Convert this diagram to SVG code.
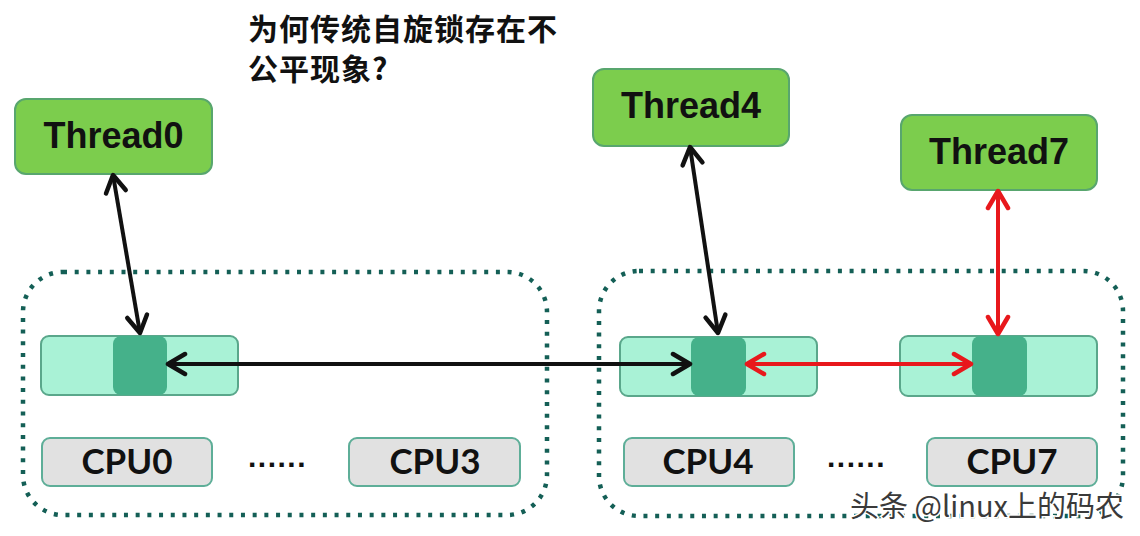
<svg xmlns="http://www.w3.org/2000/svg" width="1140" height="536" viewBox="0 0 1140 536">
  <style>
    .title { font-family: "Noto Sans CJK SC", "Noto Sans", sans-serif; font-weight: bold; font-size: 30px; letter-spacing: 1px; fill: #111; }
    .thread rect { fill: #7ccd4d; stroke: #58a66e; stroke-width: 2; }
    .thread text { font-family: "Liberation Sans", Arial, sans-serif; font-weight: bold; font-size: 36px; fill: #111; text-anchor: middle; }
    .cluster { fill: none; stroke: #145f56; stroke-width: 4.5; stroke-dasharray: 4 7.7; }
    .lock .bar { fill: #a9f2d6; stroke: #5aa78b; stroke-width: 2; }
    .lock .slot { fill: #45b18a; }
    .cpu rect { fill: #e1e1e1; stroke: #5eae98; stroke-width: 2; }
    .cpu text { font-family: Lato, "Liberation Sans", sans-serif; font-weight: bold; font-size: 35px; fill: #111; text-anchor: middle; }
    .dots { font-family: "Liberation Sans", Arial, sans-serif; font-weight: bold; font-size: 30px; letter-spacing: 1.5px; fill: #111; }
    .conn { fill: none; stroke-width: 4; }
    .black { stroke: #111; }
    .red { stroke: #e8181c; }
    .wm { font-family: "Noto Sans CJK SC", "Noto Sans", sans-serif; font-size: 29px; fill: #3a3a3a; stroke: #ffffff; stroke-width: 3; paint-order: stroke; text-anchor: end; }
  </style>
  <defs>
    <marker id="ah-black" markerUnits="userSpaceOnUse" markerWidth="26" markerHeight="26" viewBox="0 0 26 26" refX="21" refY="13" orient="auto-start-reverse">
      <path d="M4,3 L21,13 L4,23" fill="none" stroke="#111" stroke-width="4.5" stroke-linecap="round" stroke-linejoin="round"/>
    </marker>
    <marker id="ah-red" markerUnits="userSpaceOnUse" markerWidth="26" markerHeight="26" viewBox="0 0 26 26" refX="21" refY="13" orient="auto-start-reverse">
      <path d="M4,3 L21,13 L4,23" fill="none" stroke="#e8181c" stroke-width="4.5" stroke-linecap="round" stroke-linejoin="round"/>
    </marker>
  </defs>

  <rect x="0" y="0" width="1140" height="536" fill="#ffffff"/>

  <g id="title">
    <text class="title" x="248" y="40">为何传统自旋锁存在不</text>
    <text class="title" x="248" y="80">公平现象?</text>
  </g>

  <g id="cluster-left">
    <rect class="cluster" x="23" y="272" width="524" height="243" rx="40" ry="40"/>
  </g>
  <g id="cluster-right">
    <rect class="cluster" x="599" y="271" width="524" height="245" rx="40" ry="40"/>
  </g>

  <g id="thread0" class="thread">
    <rect x="15" y="99" width="197" height="75" rx="11" ry="11"/>
    <text x="113.5" y="148">Thread0</text>
  </g>
  <g id="thread4" class="thread">
    <rect x="593" y="69" width="196" height="77" rx="11" ry="11"/>
    <text x="691" y="118">Thread4</text>
  </g>
  <g id="thread7" class="thread">
    <rect x="901" y="115" width="196" height="75" rx="11" ry="11"/>
    <text x="999" y="164">Thread7</text>
  </g>

  <g id="lock0" class="lock">
    <rect class="bar" x="41" y="336" width="197" height="59" rx="8" ry="8"/>
    <rect class="slot" x="113" y="336" width="54" height="59" rx="8" ry="8"/>
  </g>
  <g id="lock4" class="lock">
    <rect class="bar" x="620" y="337" width="197" height="59" rx="8" ry="8"/>
    <rect class="slot" x="691" y="337" width="55" height="59" rx="8" ry="8"/>
  </g>
  <g id="lock7" class="lock">
    <rect class="bar" x="900" y="336" width="197" height="60" rx="8" ry="8"/>
    <rect class="slot" x="972" y="336" width="55" height="60" rx="8" ry="8"/>
  </g>

  <g id="cpu0" class="cpu">
    <rect x="42" y="438" width="170" height="48" rx="8" ry="8"/>
    <text x="127" y="474">CPU0</text>
  </g>
  <g id="cpu3" class="cpu">
    <rect x="349" y="438" width="171" height="48" rx="8" ry="8"/>
    <text x="435" y="474">CPU3</text>
  </g>
  <g id="cpu4" class="cpu">
    <rect x="624" y="438" width="170" height="48" rx="8" ry="8"/>
    <text x="708" y="474">CPU4</text>
  </g>
  <g id="cpu7" class="cpu">
    <rect x="927" y="438" width="170" height="48" rx="8" ry="8"/>
    <text x="1012" y="474">CPU7</text>
  </g>

  <g id="ellipsis-left">
    <text class="dots" x="248" y="467">......</text>
  </g>
  <g id="ellipsis-right">
    <text class="dots" x="827" y="467">......</text>
  </g>

  <g id="connectors">
    <line class="conn black" x1="113" y1="175" x2="140" y2="333" marker-start="url(#ah-black)" marker-end="url(#ah-black)"/>
    <line class="conn black" x1="168" y1="364" x2="690" y2="364" marker-start="url(#ah-black)" marker-end="url(#ah-black)"/>
    <line class="conn black" x1="690" y1="147" x2="718" y2="333" marker-start="url(#ah-black)" marker-end="url(#ah-black)"/>
    <line class="conn red" x1="998" y1="191" x2="998" y2="334" marker-start="url(#ah-red)" marker-end="url(#ah-red)"/>
    <line class="conn red" x1="747" y1="364" x2="971" y2="364" marker-start="url(#ah-red)" marker-end="url(#ah-red)"/>
  </g>

  <g id="watermark">
    <text class="wm" x="1124" y="517">头条 @linux上的码农</text>
  </g>
</svg>
